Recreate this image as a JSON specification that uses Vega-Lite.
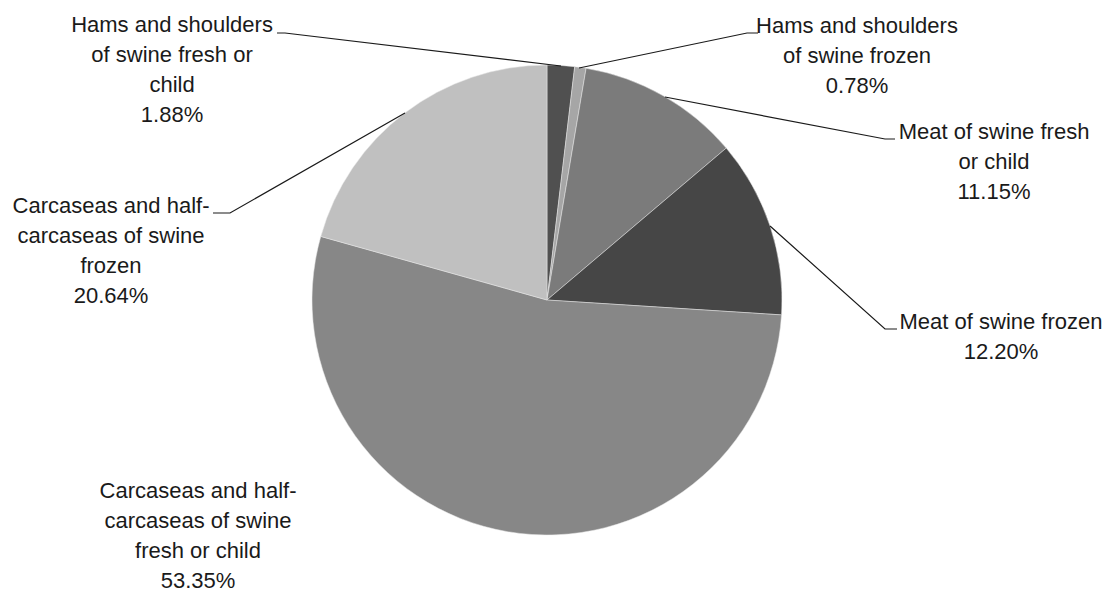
{
  "$schema": "https://vega.github.io/schema/vega-lite/v6.json",
  "width": 1110,
  "height": 593,
  "padding": 0,
  "autosize": {"type": "none"},
  "background": "white",
  "config": {"view": {"stroke": null}},
  "datasets": {
    "slices": [
      {"cat": "Hams and shoulders of swine fresh or child", "share": 1.88, "ord": 1},
      {"cat": "Hams and shoulders of swine frozen", "share": 0.78, "ord": 2},
      {"cat": "Meat of swine fresh or child", "share": 11.15, "ord": 3},
      {"cat": "Meat of swine frozen", "share": 12.20, "ord": 4},
      {"cat": "Carcaseas and half-carcaseas of swine fresh or child", "share": 53.35, "ord": 5},
      {"cat": "Carcaseas and half-carcaseas of swine frozen", "share": 20.64, "ord": 6}
    ],
    "leaders": [
      {"seg": "a", "pt": 1, "u": -1.1489, "v": 1.1362},
      {"seg": "a", "pt": 2, "u": -1.1149, "v": 1.1362},
      {"seg": "a", "pt": 3, "u": 0.0596, "v": 0.9957},
      {"seg": "b", "pt": 1, "u": 0.8979, "v": 1.1362},
      {"seg": "b", "pt": 2, "u": 0.8511, "v": 1.1362},
      {"seg": "b", "pt": 3, "u": 0.1362, "v": 0.9872},
      {"seg": "c", "pt": 1, "u": 0.5021, "v": 0.8638},
      {"seg": "c", "pt": 2, "u": 1.4383, "v": 0.6851},
      {"seg": "c", "pt": 3, "u": 1.4809, "v": 0.6851},
      {"seg": "d", "pt": 1, "u": 0.9489, "v": 0.3149},
      {"seg": "d", "pt": 2, "u": 1.4383, "v": -0.1234},
      {"seg": "d", "pt": 3, "u": 1.4894, "v": -0.1234},
      {"seg": "f", "pt": 1, "u": -0.6043, "v": 0.7957},
      {"seg": "f", "pt": 2, "u": -1.3489, "v": 0.3702},
      {"seg": "f", "pt": 3, "u": -1.4213, "v": 0.3702}
    ],
    "labels": [
      {"txt": "Hams and shoulders\nof swine fresh or\nchild\n1.88%", "u": -1.5957, "v": 1.1404},
      {"txt": "Hams and shoulders\nof swine frozen\n0.78%", "u": 1.3191, "v": 1.1362},
      {"txt": "Meat of swine fresh\nor child\n11.15%", "u": 1.9021, "v": 0.6851},
      {"txt": "Meat of swine frozen\n12.20%", "u": 1.9319, "v": -0.1234},
      {"txt": "Carcaseas and half-\ncarcaseas of swine\nfresh or child\n53.35%", "u": -1.4851, "v": -0.8426},
      {"txt": "Carcaseas and half-\ncarcaseas of swine\nfrozen\n20.64%", "u": -1.8553, "v": 0.3702}
    ]
  },
  "layer": [
    {
      "data": {"name": "slices"},
      "mark": {"type": "arc", "outerRadius": 235, "stroke": "#e8e8e8", "strokeWidth": 0.5},
      "encoding": {
        "x": {"datum": 0, "type": "quantitative", "scale": {"domain": [-2.3277, 2.3957], "nice": false, "zero": false}, "axis": null},
        "y": {"datum": 0, "type": "quantitative", "scale": {"domain": [-1.2468, 1.2766], "nice": false, "zero": false}, "axis": null},
        "theta": {"field": "share", "type": "quantitative", "stack": true},
        "order": {"field": "ord", "type": "quantitative"},
        "color": {
          "field": "cat",
          "type": "nominal",
          "legend": null,
          "scale": {
            "domain": [
              "Hams and shoulders of swine fresh or child",
              "Hams and shoulders of swine frozen",
              "Meat of swine fresh or child",
              "Meat of swine frozen",
              "Carcaseas and half-carcaseas of swine fresh or child",
              "Carcaseas and half-carcaseas of swine frozen"
            ],
            "range": ["#505050", "#a6a6a6", "#7b7b7b", "#464646", "#878787", "#c0c0c0"]
          }
        }
      }
    },
    {
      "data": {"name": "leaders"},
      "mark": {"type": "line", "color": "#1a1a1a", "strokeWidth": 1.2, "interpolate": "linear"},
      "encoding": {
        "x": {"field": "u", "type": "quantitative", "axis": null},
        "y": {"field": "v", "type": "quantitative", "axis": null},
        "detail": {"field": "seg"},
        "order": {"field": "pt", "type": "quantitative"}
      }
    },
    {
      "data": {"name": "labels"},
      "mark": {"type": "text", "font": "Liberation Sans", "fontSize": 22, "lineHeight": 30, "lineBreak": "\n", "align": "center", "baseline": "alphabetic", "color": "#1a1a1a"},
      "encoding": {
        "x": {"field": "u", "type": "quantitative", "axis": null},
        "y": {"field": "v", "type": "quantitative", "axis": null},
        "text": {"field": "txt"}
      }
    }
  ]
}
